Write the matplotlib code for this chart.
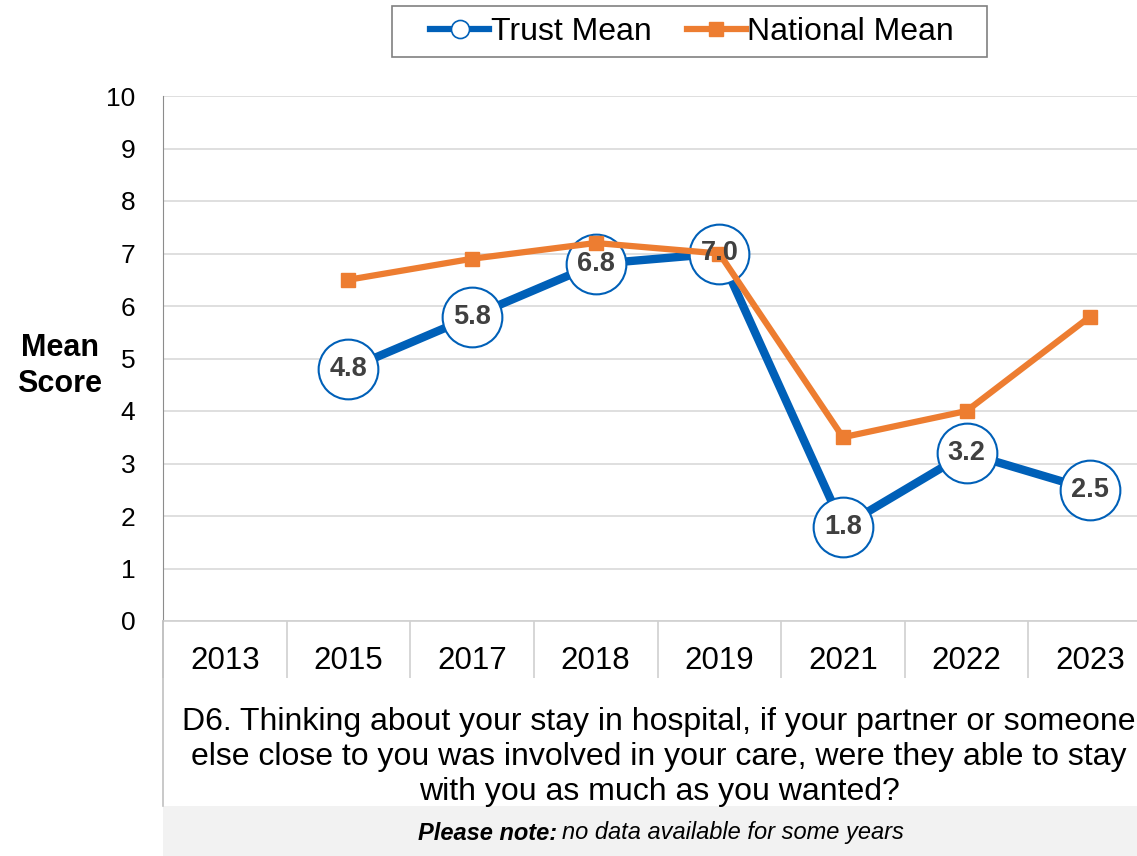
import matplotlib.pyplot as plt
import numpy as np
from matplotlib.lines import Line2D
from matplotlib.patches import Rectangle

plt.rcParams["font.family"] = ["Liberation Sans", "DejaVu Sans"]

years = ["2013", "2015", "2017", "2018", "2019", "2021", "2022", "2023"]
trust_mean = [np.nan, 4.8, 5.8, 6.8, 7.0, 1.8, 3.2, 2.5]
national_mean = [np.nan, 6.5, 6.9, 7.2, 7.0, 3.5, 4.0, 5.8]

question = ("D6. Thinking about your stay in hospital, if your partner or someone\n"
            "else close to you was involved in your care, were they able to stay\n"
            "with you as much as you wanted?")

blue = "#0060b8"
orange = "#ed7d31"
W, H = 1137, 856

fig = plt.figure(figsize=(W / 100, H / 100), dpi=100)
ax = fig.add_axes([163 / W, 235 / H, 989 / W, 525 / H])

x = np.arange(len(years))
ax.plot(x, trust_mean, color=blue, lw=6, zorder=3, solid_capstyle="butt")
ax.plot(x, trust_mean, ls="none", marker="o", ms=43, mfc="white", mec=blue,
        mew=1.5, zorder=4)
ax.plot(x, national_mean, color=orange, lw=4.5, marker="s", ms=10, zorder=5)

for xi, v in zip(x, trust_mean):
    if not np.isnan(v):
        ax.text(xi, v, f"{v:.1f}", ha="center", va="center", fontsize=19.5,
                fontweight="bold", color="#404040", zorder=6)

ax.set_xlim(-0.5, len(years) - 0.5)
ax.set_ylim(0, 10)
ax.set_yticks(range(0, 11))
ax.tick_params(axis="y", labelsize=19, length=0, pad=20)
ax.set_xticks(x)
ax.set_xticklabels(years)
ax.tick_params(axis="x", which="major", labelsize=22.5, length=0, pad=18)
ax.set_xticks(np.arange(-0.5, len(years)), minor=True)
ax.tick_params(axis="x", which="minor", length=41, width=1.2, color="#d0d0d0",
               direction="out")
ax.grid(axis="y", color="#d9d9d9", lw=1.2)
ax.set_axisbelow(True)
for s in ["top", "right"]:
    ax.spines[s].set_visible(False)
ax.spines["bottom"].set_color("#d0d0d0")
ax.spines["bottom"].set_linewidth(1.2)
ax.spines["left"].set_color("#8c8c8c")

# left axis line continues down through the question text
fig.add_artist(Line2D([163 / W, 163 / W], [50 / H, 235 / H], color="#c0c0c0", lw=1.2))

fig.text(60 / W, 1 - 366 / H, "Mean\nScore", ha="center", va="center",
         fontsize=22, fontweight="bold", linespacing=1.3)

fig.text(659 / W, 1 - 757 / H, question, ha="center", va="center", fontsize=23,
         linespacing=1.2)

fig.add_artist(Rectangle((163 / W, 0), 1 - 163 / W, 50 / H, color="#f2f2f2", lw=0))
fig.text(557 / W, 1 - 833 / H, "Please note:", ha="right", va="center", fontsize=17,
         fontweight="bold", style="italic")
fig.text(562 / W, 1 - 833 / H, "no data available for some years", ha="left",
         va="center", fontsize=17, style="italic")

# legend with a wide box drawn separately
handles = [
    Line2D([], [], color=blue, lw=4.5, marker="o", ms=13, mfc="white", mec=blue, mew=1.2),
    Line2D([], [], color=orange, lw=4.5, marker="s", ms=10),
]
fig.legend(handles, ["Trust Mean", "National Mean"], loc="center",
           bbox_to_anchor=(692 / W, 1 - 32 / H), ncol=2, fontsize=23,
           frameon=False, handlelength=1.85, handletextpad=0.05,
           columnspacing=1.1, borderpad=0.3, borderaxespad=0)
fig.add_artist(Rectangle((392 / W, 1 - 57 / H), 595 / W, 51 / H, fill=False,
                         edgecolor="#808080", lw=1.2))

fig.savefig("out.png", dpi=100)
